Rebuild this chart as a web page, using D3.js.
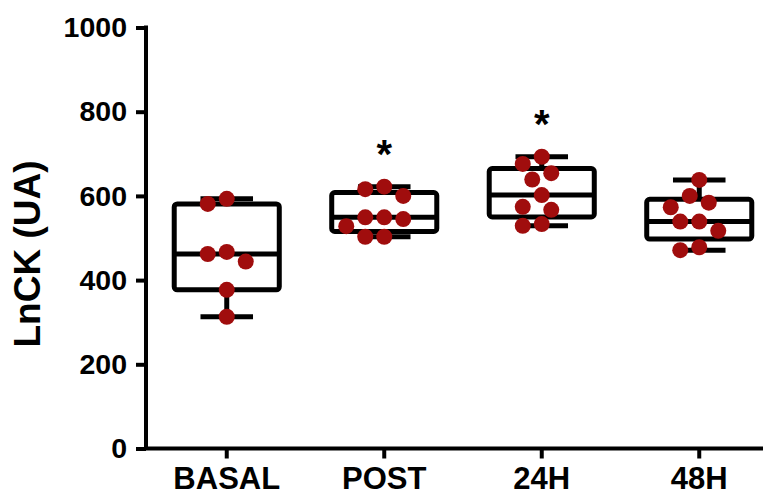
<!DOCTYPE html>
<html>
<head>
<meta charset="utf-8">
<script src="https://cdn.jsdelivr.net/npm/d3@7"></script>
<style>
  body { margin: 0; background: #fff; }
  svg { display: block; }
  text { font-family: "Liberation Sans", Arial, Helvetica, sans-serif; font-weight: bold; fill: #000; }
</style>
</head>
<body>
<svg id="chart" width="767" height="495"></svg>
<script>
// Sampling times and individual LnCK readings (UA)
const categories = ["BASAL", "POST", "24H", "48H"];
const basal = [593, 581, 467, 462, 444, 377, 313];
const post  = [622, 616, 600, 549, 549, 545, 528, 503, 503];
const h24   = [693, 676, 654, 639, 602, 574, 567, 533, 529];
const h48   = [638, 600, 584, 573, 539, 539, 517, 478, 471];
// Times flagged as significantly different from baseline
const significant = ["POST", "24H"];
const yTicks = [0, 200, 400, 600, 800, 1000];
const yTitle = "LnCK (UA)";

const groups = [basal, post, h24, h48];

const svg = d3.select("#chart");
const plot = { left: 146, right: 763, top: 27.5, bottom: 448.5 };
const pointColor = "#a00d0d";
const r = 8;

const y = d3.scaleLinear().domain([0, 1000]).range([plot.bottom, plot.top]);
const x = d3.scaleBand().domain(categories).range([plot.left + 2, plot.left + 632]);
const boxW = x.bandwidth() * 0.667;
const capW = boxW / 2;

// Quartiles by the (n+1)p rule
function quant(sorted, p) {
  const pos = (sorted.length + 1) * p;
  const lo = Math.floor(pos), hi = Math.ceil(pos);
  const a = sorted[Math.max(0, lo - 1)];
  const b = sorted[Math.min(sorted.length - 1, hi - 1)];
  return a + (b - a) * (pos - lo);
}

// Greedy swarm: each point takes the nearest free lateral slot
function swarm(values) {
  const step = 9.5, minD = 17;
  const order = values.map((v, i) => i).sort((a, b) => values[b] - values[a]);
  const placed = [];
  const offs = new Array(values.length).fill(0);
  order.forEach(i => {
    const py = y(values[i]);
    for (let k = 0; k < 20; k++) {
      const cand = k === 0 ? 0 : (k % 2 ? -1 : 1) * Math.ceil(k / 2) * step;
      const ok = placed.every(p => Math.hypot(p.x - cand, p.y - py) >= minD);
      if (ok) { offs[i] = cand; placed.push({ x: cand, y: py }); break; }
    }
  });
  return offs;
}

// Axes
const yAxis = svg.append("g")
  .attr("transform", `translate(${plot.left},0)`)
  .call(d3.axisLeft(y).tickValues(yTicks).tickSize(10).tickSizeOuter(0).tickPadding(9)
    .tickFormat(d3.format("d")));
yAxis.select(".domain").remove();
yAxis.selectAll(".tick line").attr("stroke", "#000").attr("stroke-width", 4);
yAxis.selectAll(".tick text").style("font-size", "28.5px");

const xAxis = svg.append("g")
  .attr("transform", `translate(0,${plot.bottom})`)
  .call(d3.axisBottom(x).tickSize(10).tickSizeOuter(0).tickPadding(8));
xAxis.select(".domain").remove();
xAxis.selectAll(".tick line").attr("stroke", "#000").attr("stroke-width", 4);
xAxis.selectAll(".tick text").style("font-size", "31px");

svg.append("path")
  .attr("d", `M${plot.left},${plot.top - 2}V${plot.bottom}H${plot.right}`)
  .attr("fill", "none").attr("stroke", "#000").attr("stroke-width", 4)
  .attr("stroke-linejoin", "miter");

svg.append("text")
  .attr("transform", `translate(27,${(plot.top + plot.bottom) / 2 + 16}) rotate(-90)`)
  .attr("text-anchor", "middle")
  .attr("dominant-baseline", "central")
  .style("font-size", "37px")
  .text(yTitle);

// Boxes with min-max whiskers
categories.forEach((cat, gi) => {
  const vals = groups[gi];
  const s = vals.slice().sort((a, b) => a - b);
  const q1 = quant(s, 0.25), med = quant(s, 0.5), q3 = quant(s, 0.75);
  const lo = s[0], hi = s[s.length - 1];
  const cx = x(cat) + x.bandwidth() / 2;
  const g = svg.append("g").attr("fill", "none").attr("stroke", "#000")
    .attr("stroke-width", 5).attr("stroke-linejoin", "round");

  g.append("line").attr("x1", cx).attr("x2", cx).attr("y1", y(hi)).attr("y2", y(q3));
  g.append("line").attr("x1", cx).attr("x2", cx).attr("y1", y(q1)).attr("y2", y(lo));
  g.append("line").attr("x1", cx - capW / 2).attr("x2", cx + capW / 2).attr("y1", y(hi)).attr("y2", y(hi));
  g.append("line").attr("x1", cx - capW / 2).attr("x2", cx + capW / 2).attr("y1", y(lo)).attr("y2", y(lo));
  g.append("rect").attr("x", cx - boxW / 2).attr("width", boxW)
    .attr("y", y(q3)).attr("height", y(q1) - y(q3)).attr("rx", 3);
  g.append("line").attr("x1", cx - boxW / 2).attr("x2", cx + boxW / 2).attr("y1", y(med)).attr("y2", y(med));

  const offs = swarm(vals);
  svg.append("g").selectAll("circle").data(vals).join("circle")
    .attr("cx", (d, i) => cx + offs[i])
    .attr("cy", d => y(d))
    .attr("r", r)
    .attr("fill", pointColor);

  if (significant.includes(cat)) {
    svg.append("text")
      .attr("x", cx).attr("y", y(hi) - 19)
      .attr("text-anchor", "middle")
      .style("font-size", "40px")
      .text("*");
  }
});
</script>
</body>
</html>
